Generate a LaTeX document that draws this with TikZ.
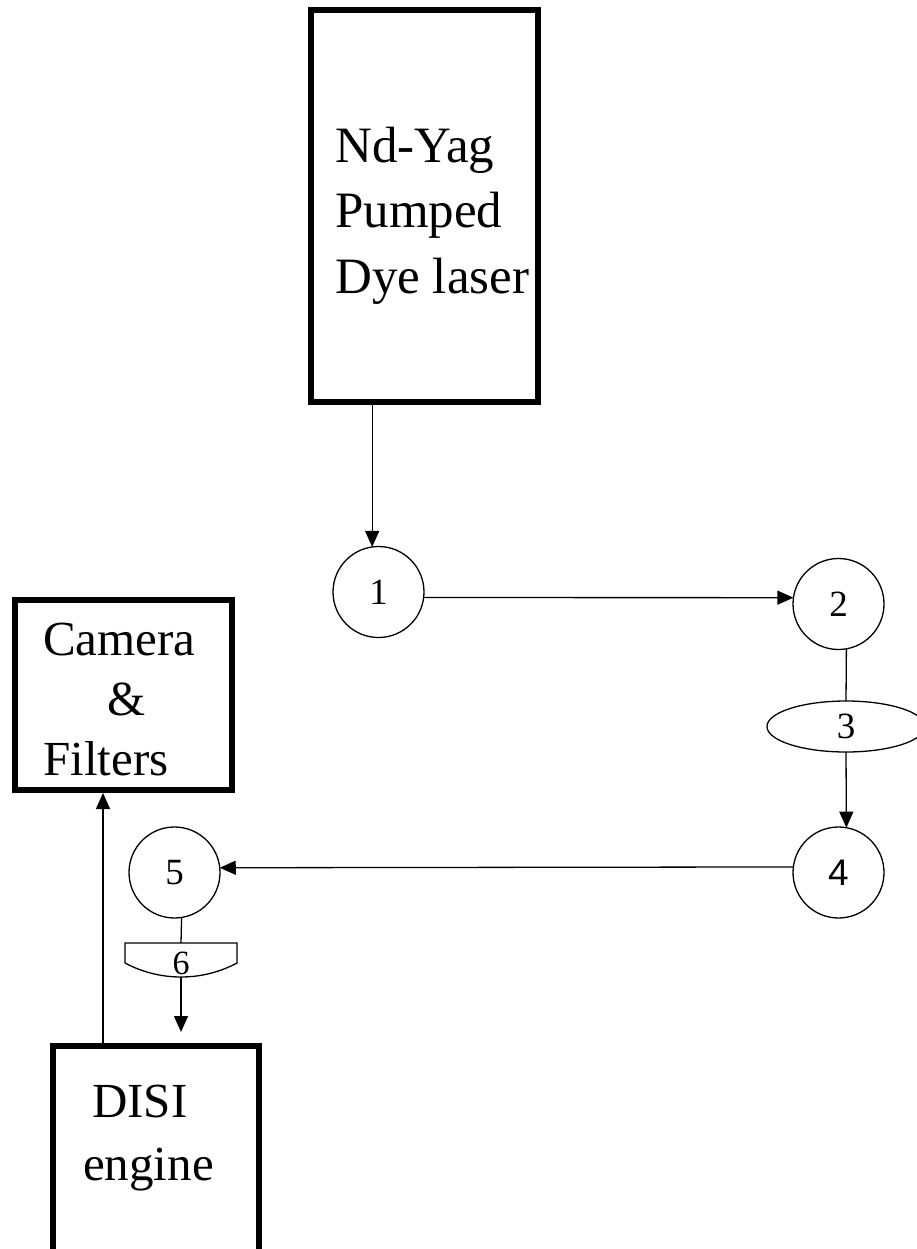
\documentclass[tikz,border=0pt]{standalone}
\usepackage{fontspec}
\setmainfont{Liberation Serif}
\newfontfamily\arialf{Liberation Sans}
\usetikzlibrary{arrows.meta,shapes.geometric,calc}
\tikzset{
 box/.style={draw, line width=6pt, rectangle, inner sep=0pt},
 circ/.style={draw, circle, line width=1.3pt, minimum size=91pt, inner sep=0pt, outer sep=0pt, font=\fontsize{37}{40}\selectfont},
 big/.style={anchor=base west, inner sep=0pt, font=\fontsize{49}{55}\selectfont},
 bigger/.style={big, font=\fontsize{51}{57}\selectfont},
 conn/.style={line width=1.3pt},
 arr/.style={conn, -{Triangle[length=16pt,width=14pt]}},
}
\begin{document}
\begin{tikzpicture}[x=1pt,y=-1pt]
\useasboundingbox (0,0) rectangle (916,1249);
\fill[white] (0,0) rectangle (916,1249);
% boxes
\node[box, minimum width=227pt, minimum height=392pt] (laser) at (424.5,206) {};
\node[box, minimum width=217pt, minimum height=190pt] (cam) at (123.5,695) {};
\node[box, minimum width=206pt, minimum height=208pt] (dis) at (156,1150) {};
% box texts
\node[bigger] (t1) at (335,163) {Nd-Yag};
\node[bigger] (t2) at (335,228) {Pumped};
\node[bigger] (t3) at (335,293) {Dye laser};
\node[big] (t4) at (43,655) {Camera};
\node[big] (t5) at (107,715) {\&};
\node[big] (t6) at (43,775) {Filters};
\node[big] (t7) at (92,1117) {DISI};
\node[big] (t8) at (83,1180) {engine};
% circles
\node[circ] (c1) at (378.5,592) {1};
\node[circ] (c2) at (838.5,604) {2};
\node[circ] (c4) at (838.5,872.5) {\arialf 4};
\node[circ] (c5) at (174.5,872.5) {5};
\node[draw, ellipse, line width=1.3pt, minimum width=158pt, minimum height=51pt, inner sep=0pt, outer sep=0pt, font=\fontsize{37}{40}\selectfont] (e3) at (846,726.5) {3};
% shape 6
\node[inner sep=0pt, font=\fontsize{34}{38}\selectfont] (s6) at (181,963) {6};
\draw[conn] ($(s6)+(-56,-20)$) -- ($(s6)+(56,-20)$) -- ($(s6)+(56,0)$)
  arc[start angle=-61.93, end angle=-118.07, radius=119pt] -- cycle;
\coordinate (s6n) at ($(s6)+(0,-20)$);
\coordinate (s6s) at ($(s6)+(0,14)$);
% connectors
\draw[arr] (laser.south -| c1.98) -- (c1.98);
\draw[arr] (c1.-7.6) -- (c2.172.4);
\draw[conn] (c2.-80.5) -- (e3.north);
\draw[arr] (e3.south) -- (c4.80.5);
\draw[arr] (c4.173.1) -- (c5.6.9);
\draw[conn] (c5.-81.8) -- (s6n);
\draw[arr] (s6s) -- ($(dis.north -| s6s)+(0,-11)$);
\coordinate (dtop) at ($(dis.north west)!0.25!(dis.north east)$);
\draw[arr] (dtop) -- (dtop |- cam.south);
\end{tikzpicture}
\end{document}
